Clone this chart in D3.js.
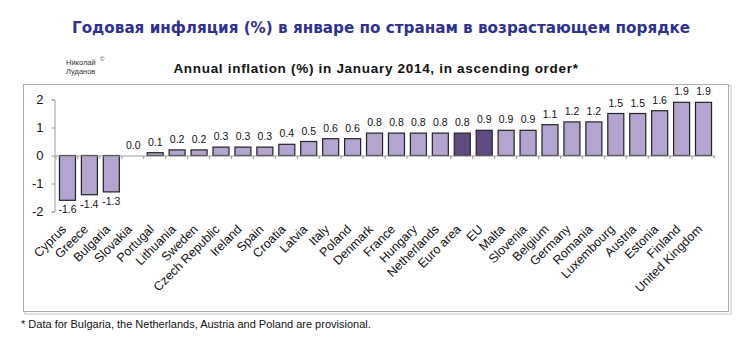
<!DOCTYPE html>
<html>
<head>
<meta charset="utf-8">
<script src="https://cdn.jsdelivr.net/npm/d3@7"></script>
<style>
  body { margin: 0; background: #fff; }
  svg { display: block; }
</style>
</head>
<body>
<div id="chart"></div>
<script>
// Инфляция в январе 2014, по возрастанию
const countries = ['Cyprus', 'Greece', 'Bulgaria', 'Slovakia', 'Portugal', 'Lithuania', 'Sweden',
  'Czech Republic', 'Ireland', 'Spain', 'Croatia', 'Latvia', 'Italy', 'Poland', 'Denmark', 'France',
  'Hungary', 'Netherlands', 'Euro area', 'EU', 'Malta', 'Slovenia', 'Belgium', 'Germany', 'Romania',
  'Luxembourg', 'Austria', 'Estonia', 'Finland', 'United Kingdom'];
const inflation = [-1.6, -1.4, -1.3, 0.0, 0.1, 0.2, 0.2, 0.3, 0.3, 0.3, 0.4, 0.5, 0.6, 0.6, 0.8, 0.8,
  0.8, 0.8, 0.8, 0.9, 0.9, 0.9, 1.1, 1.2, 1.2, 1.5, 1.5, 1.6, 1.9, 1.9];
const aggregates = ['Euro area', 'EU'];
const yTicks = [-2, -1, 0, 1, 2];

const width = 748, height = 340;
const FONT = 'Arial, "Liberation Sans", sans-serif';

const svg = d3.select('#chart')
  .append('svg')
  .attr('width', width)
  .attr('height', height);

// заголовок
svg.append('text')
  .attr('x', 381)
  .attr('y', 33)
  .attr('text-anchor', 'middle')
  .attr('font-family', 'Verdana, "DejaVu Sans", sans-serif')
  .attr('font-size', 15.2)
  .attr('font-weight', 'bold')
  .attr('fill', '#2e3192')
  .text('Годовая инфляция (%) в январе по странам в возрастающем порядке');

// автор
const author = svg.append('text')
  .attr('font-family', FONT)
  .attr('font-size', 7.5)
  .attr('fill', '#333');
author.append('tspan').attr('x', 66).attr('y', 65).text('Николай');
author.append('tspan').attr('x', 100).attr('y', 61).attr('font-size', 6).text('©');
author.append('tspan').attr('x', 66).attr('y', 74).text('Луданов');

// рамка графика
svg.append('rect')
  .attr('x', 25).attr('y', 86)
  .attr('width', 706).attr('height', 228)
  .attr('fill', 'none')
  .attr('stroke', '#e2e2e2')
  .attr('stroke-width', 2);
svg.append('rect')
  .attr('x', 23.5).attr('y', 84.5)
  .attr('width', 705).attr('height', 227)
  .attr('fill', '#fff')
  .attr('stroke', '#ababab')
  .attr('stroke-width', 1);

svg.append('text')
  .attr('x', 376)
  .attr('y', 73)
  .attr('text-anchor', 'middle')
  .attr('font-family', FONT)
  .attr('font-size', 13.5)
  .attr('font-weight', 'bold')
  .attr('letter-spacing', 0.7)
  .attr('fill', '#111')
  .text('Annual inflation (%) in January 2014, in ascending order*');

// шкалы
const x = d3.scaleBand()
  .domain(countries)
  .range([56, 714])
  .paddingInner(0.27)
  .paddingOuter(0.135);

const y = d3.scaleLinear()
  .domain([-2, 2])
  .range([211.5, 99.5]);

// ось Y
const yAxis = d3.axisLeft(y)
  .tickValues(yTicks)
  .tickFormat(d3.format('d'))
  .tickSize(3)
  .tickPadding(8);

const yG = svg.append('g')
  .attr('transform', 'translate(54.5,0)')
  .call(yAxis);
yG.select('.domain').attr('stroke', '#999');
yG.selectAll('.tick line').attr('stroke', '#999');
yG.selectAll('.tick text')
  .attr('font-family', FONT)
  .attr('font-size', 13)
  .attr('fill', '#111')
  .text(d => d < 0 ? '-' + Math.abs(d) : d);

// столбцы
svg.append('g')
  .selectAll('rect')
  .data(countries)
  .join('rect')
  .attr('x', d => x(d) + 0.5)
  .attr('y', (d, i) => y(Math.max(0, inflation[i])))
  .attr('width', x.bandwidth())
  .attr('height', (d, i) => Math.abs(y(inflation[i]) - y(0)))
  .attr('fill', d => aggregates.includes(d) ? '#5f4a82' : '#b3a5cf')
  .attr('stroke', '#222')
  .attr('stroke-width', 1.2);

// ось X по нулю
const xAxis = d3.axisBottom(x).tickSize(0).tickFormat('');
const xG = svg.append('g')
  .attr('transform', `translate(0,${y(0)})`)
  .call(xAxis);
xG.select('.domain').attr('stroke', '#999').attr('d', `M54.5,0.5H715`);

// засечки между категориями
const step = x.step();
const boundaries = d3.range(countries.length + 1).map(i => 56 + i * step);
xG.selectAll('.sep')
  .data(boundaries)
  .join('line')
  .attr('class', 'sep')
  .attr('x1', d => d).attr('x2', d => d)
  .attr('y1', 0.5).attr('y2', 3.5)
  .attr('stroke', '#999');

// подписи значений
svg.append('g')
  .selectAll('text')
  .data(countries)
  .join('text')
  .attr('x', d => x(d) + x.bandwidth() / 2 + 0.5)
  .attr('y', (d, i) => inflation[i] < 0 ? y(inflation[i]) + 13 : y(inflation[i]) - 7)
  .attr('text-anchor', 'middle')
  .attr('font-family', FONT)
  .attr('font-size', 10.5)
  .attr('fill', '#111')
  .text((d, i) => inflation[i].toFixed(1));

// названия стран
svg.append('g')
  .selectAll('text')
  .data(countries)
  .join('text')
  .attr('transform', d => `translate(${x(d) + x.bandwidth() / 2},${230}) rotate(-45)`)
  .attr('text-anchor', 'end')
  .attr('font-family', FONT)
  .attr('font-size', 12.5)
  .attr('fill', '#111')
  .text(d => d);

// сноска
svg.append('text')
  .attr('x', 21)
  .attr('y', 328)
  .attr('font-family', FONT)
  .attr('font-size', 11)
  .attr('fill', '#111')
  .text('* Data for Bulgaria, the Netherlands, Austria and Poland are provisional.');
</script>
</body>
</html>
